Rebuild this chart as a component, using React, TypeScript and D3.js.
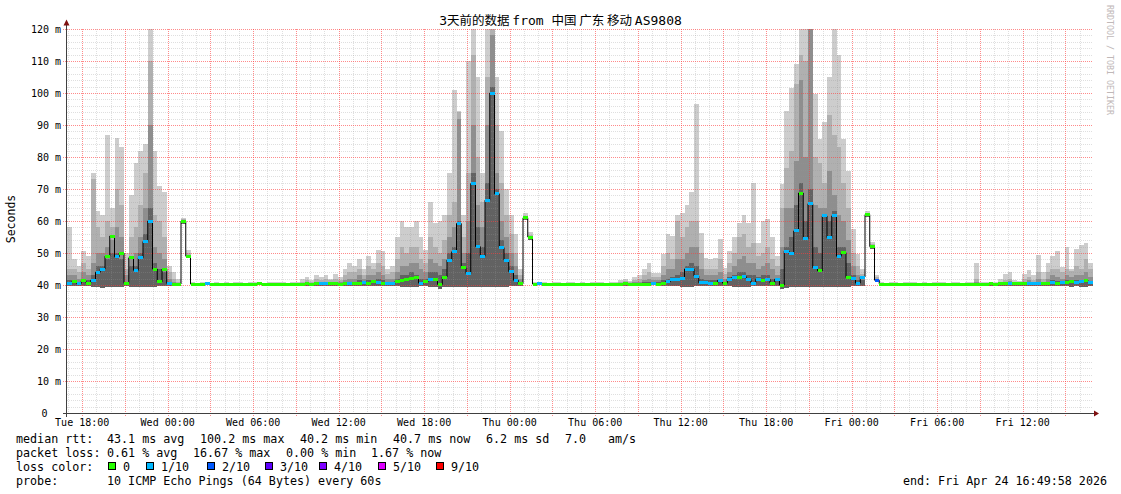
import React from 'react';
import * as d3 from 'd3';

// 3 days of smokeping data, one sample every 20 minutes
const startTime = new Date(2026, 3, 21, 16, 56);
const stepMinutes = 20;
const spanHours = 72;

const medianMs = [
  40.5, 41, 40.5, 41.3, 40.6, 41.5, 44, 45, 49, 55.3, 48.8, 50,
  40.5, 48.5, 44.6, 48.5, 53.6, 60, 45, 41, 45, 40.5, 40.3, 40.3,
  60, 49, 40.3, 40.3, 40.2, 40.4, 40.3, 40.3, 40.2, 40.3, 40.3, 40.2,
  40.3, 40.2, 40.3, 40.3, 40.4, 40.3, 40.2, 40.3, 40.3, 40.3, 40.2, 40.3,
  40.3, 40.3, 40.4, 40.3, 40.4, 40.5, 40.5, 40.4, 40.4, 40.3, 40.5, 40.5,
  40.6, 40.4, 40.8, 40.6, 41, 40.7, 40.5, 40.5, 40.5, 41, 41.5, 41.8,
  42, 42.3, 40.6, 41, 41.7, 41.8, 40.2, 42.5, 47.8, 50.4, 59.2, 45.4,
  43.6, 71.7, 52, 49, 66.5, 100, 68.5, 51.7, 47.8, 44.2, 41.5, 40.4,
  61, 55, 40.3, 40.4, 40.3, 40.3, 40.2, 40.3, 40.3, 40.3, 40.2, 40.3,
  40.3, 40.2, 40.3, 40.3, 40.3, 40.2, 40.3, 40.3, 40.3, 40.4, 40.3, 40.3,
  40.3, 40.3, 40.3, 40.4, 40.3, 40.5, 41, 41.7, 41.7, 42, 45, 45,
  42.8, 40.7, 40.7, 40.6, 40.6, 41.5, 40.6, 41.8, 42.5, 42.5, 42.6, 41.8,
  40.6, 41.8, 41.5, 41.8, 40.6, 41.8, 40, 50.6, 49.8, 56.9, 68.75, 54.5,
  65.4, 45.4, 44.4, 61.6, 54.8, 61.6, 49, 50.1, 42.3, 41.9, 40.6, 42.5,
  62, 52, 41.5, 40.3, 40.3, 40.2, 40.3, 40.3, 40.2, 40.3, 40.3, 40.3,
  40.3, 40.2, 40.3, 40.3, 40.3, 40.2, 40.3, 40.3, 40.2, 40.3, 40.3, 40.3,
  40.3, 40.3, 40.4, 40.3, 40.5, 40.5, 40.6, 40.4, 40.4, 40.5, 40.6, 40.6,
  40.6, 40.5, 40.6, 40.8, 40.6, 40.7, 40.8, 41, 40.8, 41, 41.3, 40.8,
];

// lost pings out of 10
const lossTenths = [
  1, 0, 1, 0, 0, 1, 1, 1, 0, 0, 1, 0,
  0, 0, 1, 1, 1, 1, 0, 0, 0, 1, 0, 0,
  0, 0, 0, 0, 0, 1, 0, 0, 0, 0, 0, 0,
  0, 0, 0, 0, 0, 0, 0, 0, 0, 0, 0, 0,
  0, 0, 0, 0, 0, 1, 1, 0, 0, 0, 0, 1,
  0, 0, 1, 0, 0, 1, 0, 1, 1, 0, 0, 0,
  0, 0, 1, 0, 1, 0, 0, 0, 1, 1, 1, 0,
  1, 1, 1, 1, 1, 1, 1, 1, 1, 1, 1, 0,
  0, 0, 0, 1, 0, 0, 0, 0, 0, 0, 0, 0,
  0, 0, 0, 0, 0, 0, 0, 0, 0, 0, 0, 0,
  0, 0, 0, 1, 0, 0, 1, 1, 1, 1, 1, 1,
  1, 1, 1, 1, 0, 1, 0, 1, 1, 0, 1, 1,
  1, 1, 0, 1, 0, 1, 0, 1, 1, 1, 0, 1,
  1, 1, 0, 1, 1, 1, 1, 0, 0, 1, 1, 1,
  0, 0, 2, 0, 0, 0, 0, 0, 0, 0, 0, 0,
  0, 0, 0, 0, 0, 0, 0, 0, 0, 0, 0, 0,
  0, 0, 0, 0, 0, 0, 1, 0, 0, 0, 1, 1,
  1, 0, 0, 1, 0, 1, 0, 0, 1, 1, 0, 1,
];

const minMs = [
  39.6, 39.7, 39.7, 39.6, 39.7, 39.5, 39.3, 39.2, 39.3, 39.4, 39.5, 39.5,
  39.6, 39.5, 39.4, 39.4, 39.3, 39.3, 39.5, 39.6, 39.6, 39.8, 39.9, 39.9,
  59.2, 48.6, 39.9, 39.9, 39.8, 39.9, 39.9, 39.9, 39.8, 39.9, 39.9, 39.8,
  39.9, 39.8, 39.9, 39.9, 39.9, 39.9, 39.8, 39.9, 39.9, 39.9, 39.8, 39.9,
  39.9, 39.9, 39.8, 39.9, 39.8, 39.8, 39.8, 39.8, 39.8, 39.9, 39.7, 39.7,
  39.7, 39.8, 39.7, 39.7, 39.6, 39.7, 39.7, 39.8, 39.8, 39.6, 39.5, 39.5,
  39.5, 39.5, 39.6, 39.6, 39.5, 39.5, 38.8, 39.3, 39.3, 39.4, 39.4, 39.3,
  39.3, 39.4, 39.4, 39.4, 39.4, 39.4, 39.4, 39.5, 39.5, 39.6, 39.7, 39.8,
  60.2, 54, 39.9, 39.9, 39.9, 39.9, 39.8, 39.9, 39.9, 39.9, 39.8, 39.9,
  39.9, 39.8, 39.9, 39.9, 39.9, 39.8, 39.9, 39.9, 39.8, 39.8, 39.9, 39.8,
  39.9, 39.9, 39.9, 39.9, 39.9, 39.8, 39.7, 39.6, 39.6, 39.5, 39.5, 39.5,
  39.6, 39.7, 39.7, 39.7, 39.7, 39.6, 39.7, 39.6, 39.5, 39.5, 39.5, 39.5,
  39.6, 39.6, 39.6, 39.6, 39.7, 39.6, 38.8, 39.2, 39.3, 39.3, 39.4, 39.4,
  39.4, 39.4, 39.4, 39.4, 39.4, 39.4, 39.5, 39.5, 39.5, 39.6, 39.7, 39.8,
  61.2, 51.2, 40.8, 39.9, 39.9, 39.8, 39.9, 39.9, 39.8, 39.9, 39.9, 39.9,
  39.9, 39.8, 39.9, 39.9, 39.9, 39.8, 39.9, 39.9, 39.8, 39.9, 39.9, 39.9,
  39.9, 39.9, 39.8, 39.9, 39.8, 39.8, 39.8, 39.8, 39.8, 39.8, 39.7, 39.7,
  39.7, 39.7, 39.7, 39.6, 39.7, 39.6, 39.6, 39.5, 39.6, 39.5, 39.5, 39.6,
];

// smoke: upper edge of each band, outer (lightest) to inner (darkest)
const smokeMax = [
  58, 48, 46, 50.5, 49, 75, 63, 62, 87, 64, 86, 83,
  50, 68, 78, 82, 84, 120, 82, 71, 69, 46, 44, 42,
  61, 51, 40.8, 40.7, 40.8, 40.9, 40.7, 40.8, 40.7, 40.8, 40.7, 40.8,
  40.8, 40.7, 40.8, 40.8, 40.9, 40.7, 40.8, 40.8, 41, 40.8, 40.7, 40.9,
  41, 42, 42.5, 41.5, 43, 42.5, 43, 42, 43.5, 42.5, 45, 47,
  46, 48, 45, 49, 47, 51, 50.6, 45, 46, 55, 60, 58,
  58, 60, 55, 51, 66, 59.5, 60, 62, 75, 101, 94.5, 62,
  110, 120, 105, 75, 120, 120, 105, 88, 70, 62, 56, 45,
  62.5, 56.5, 40.8, 40.9, 40.8, 40.7, 40.8, 40.8, 40.7, 40.8, 40.8, 40.7,
  40.8, 40.7, 40.8, 40.9, 40.8, 40.7, 40.8, 40.8, 41.5, 42, 41.2, 42.5,
  43, 45, 47, 43.8, 43.8, 49.6, 55.8, 55.3, 62, 62.6, 65, 69,
  96.5, 56.4, 48.5, 48, 48.5, 54.3, 45.4, 50.6, 55, 59.5, 62, 59.4,
  72, 53, 60, 60.5, 55, 49, 71.5, 94.4, 101.7, 109, 120, 120,
  120, 99.6, 85.6, 91, 105, 120, 112, 85.6, 75.6, 57.4, 49.6, 45,
  63, 53.5, 43, 40.8, 40.7, 40.8, 40.8, 40.7, 40.8, 40.9, 40.8, 40.7,
  40.8, 40.7, 40.8, 40.8, 40.9, 40.7, 40.8, 40.8, 40.7, 40.8, 40.8, 46.8,
  40.8, 40.8, 41, 41, 42, 43.5, 44, 41.5, 41.2, 43.5, 44.7, 43,
  49.4, 44, 47, 49, 50.6, 45.5, 51.9, 45, 51.2, 52.5, 53, 47,
];

const smokeHigh = [
  45, 45, 44, 47, 45, 73, 58, 55, 60, 58, 70, 65,
  45, 55, 58, 65, 75, 110, 62, 60, 55, 44, 42, 41,
  60.5, 50, 40.6, 40.6, 40.6, 40.7, 40.6, 40.6, 40.6, 40.6, 40.6, 40.6,
  40.6, 40.6, 40.6, 40.6, 40.7, 40.6, 40.6, 40.6, 40.7, 40.6, 40.6, 40.7,
  40.7, 41, 41.5, 41, 42, 41.5, 42, 41.5, 42, 41.5, 43, 44,
  44, 45, 43, 46, 45, 47, 46, 43.5, 44, 48, 52, 50,
  52, 52, 48, 47, 55, 52, 50, 54, 62, 66, 94, 55,
  75, 112, 80, 66, 105, 120, 90, 72, 62, 56, 50, 43,
  61.6, 55.5, 40.6, 40.7, 40.6, 40.6, 40.6, 40.6, 40.6, 40.6, 40.6, 40.6,
  40.6, 40.6, 40.6, 40.7, 40.6, 40.6, 40.6, 40.6, 41, 41.3, 40.9, 41.5,
  42, 43, 44, 42.5, 42.5, 46, 50, 48, 60, 55, 58, 60,
  60, 50, 45, 45, 45, 48, 43.5, 47, 50, 55, 56, 52,
  53, 49, 50, 52, 48, 46, 64, 76.7, 82, 102.7, 112, 110,
  120, 80, 78, 72, 93, 87, 83, 72, 64, 50, 46, 43.5,
  62.5, 52.8, 42.5, 40.6, 40.6, 40.6, 40.6, 40.6, 40.6, 40.7, 40.6, 40.6,
  40.6, 40.6, 40.6, 40.6, 40.7, 40.6, 40.6, 40.6, 40.6, 40.6, 40.6, 42,
  40.6, 40.6, 40.7, 40.7, 41, 41.5, 42, 41, 40.9, 42, 42.5, 41.5,
  44, 42, 44, 45, 45, 44, 45, 44.5, 46, 45, 48, 45,
];

const smokeMid = [
  43, 43, 42, 44, 43, 47, 50, 50, 52, 54, 58, 55,
  43, 49, 50, 55, 64, 90, 52, 50, 48, 42, 41, 40.6,
  60.3, 49.5, 40.5, 40.5, 40.5, 40.6, 40.5, 40.5, 40.5, 40.5, 40.5, 40.5,
  40.5, 40.5, 40.5, 40.5, 40.6, 40.5, 40.5, 40.5, 40.6, 40.5, 40.5, 40.6,
  40.5, 40.6, 41, 40.6, 41, 41, 41, 41, 41, 41, 41.5, 42,
  42, 43, 42, 43, 43, 44, 43, 42, 42, 44, 46, 46,
  47, 47, 45, 44, 48, 47, 46, 48, 55, 58, 92, 50,
  60, 90, 65, 58, 90, 118, 75, 60, 55, 50, 46, 42,
  61.3, 55.2, 40.5, 40.6, 40.5, 40.5, 40.5, 40.5, 40.5, 40.5, 40.5, 40.5,
  40.5, 40.5, 40.5, 40.6, 40.5, 40.5, 40.5, 40.5, 40.7, 40.9, 40.7, 41,
  41, 41.5, 42, 41.5, 41.5, 43, 45, 45, 48, 48, 50, 52,
  52, 45, 43, 43, 43, 44, 42, 44, 46, 48, 49, 47,
  47, 45, 46, 47, 45, 43, 52, 64, 64, 78.75, 104, 80,
  120, 65, 64, 64, 75.6, 68, 62, 60, 54, 46, 43, 42.5,
  62.2, 52.4, 42, 40.5, 40.5, 40.5, 40.5, 40.5, 40.5, 40.6, 40.5, 40.5,
  40.5, 40.5, 40.5, 40.5, 40.6, 40.5, 40.5, 40.5, 40.5, 40.5, 40.5, 41,
  40.5, 40.5, 40.6, 40.6, 40.8, 41, 41.2, 40.7, 40.7, 41, 41.5, 41,
  42, 41, 42, 43, 42.5, 42, 43, 42.5, 43, 43, 44, 42.5,
];

const smokeCore = [
  41.5, 41.5, 41, 42, 41.5, 43, 46, 46, 48, 50, 50, 48,
  41, 46, 46, 50, 56, 64, 47, 45, 44, 41, 40.6, 40.4,
  60.1, 49.2, 40.4, 40.4, 40.4, 40.5, 40.4, 40.4, 40.4, 40.4, 40.4, 40.4,
  40.4, 40.4, 40.4, 40.4, 40.5, 40.4, 40.4, 40.4, 40.5, 40.4, 40.4, 40.5,
  40.4, 40.4, 40.6, 40.4, 40.6, 40.6, 40.6, 40.6, 40.6, 40.6, 40.8, 41,
  41, 41.5, 41, 41.5, 41.5, 42, 41.5, 41, 41, 42, 43, 43,
  44, 43, 42, 42, 44, 44, 43, 45, 50, 52, 60, 47,
  50, 75, 58, 52, 72, 102, 70, 54, 50, 46, 43, 41,
  61.1, 55.1, 40.4, 40.5, 40.4, 40.4, 40.4, 40.4, 40.4, 40.4, 40.4, 40.4,
  40.4, 40.4, 40.4, 40.5, 40.4, 40.4, 40.4, 40.4, 40.5, 40.6, 40.5, 40.6,
  40.7, 41, 41, 40.8, 40.8, 41.5, 42, 42.5, 43, 44, 46, 47,
  46, 42, 41.5, 41.5, 41.5, 42, 41, 42.5, 43, 44, 44, 43,
  43, 42.5, 43, 43, 42, 41.5, 45, 52, 55, 65, 72, 60,
  70, 52, 50, 62, 60, 63, 52, 52, 47, 43, 41.5, 41.5,
  62.1, 52.2, 41.8, 40.4, 40.4, 40.4, 40.4, 40.4, 40.4, 40.5, 40.4, 40.4,
  40.4, 40.4, 40.4, 40.4, 40.5, 40.4, 40.4, 40.4, 40.4, 40.4, 40.4, 40.7,
  40.4, 40.4, 40.5, 40.5, 40.6, 40.7, 40.8, 40.5, 40.5, 40.7, 41, 40.7,
  41, 40.7, 41, 41.5, 41.2, 41, 41.5, 41.2, 41.5, 41.5, 42, 41.2,
];

const smokeColors = ['#cdcdcd', '#b0b0b0', '#8e8e8e', '#626262'];

const lossLegend = ['0', '1/10', '2/10', '3/10', '4/10', '5/10', '9/10'];
const lossLegendColors = ['#26ff00', '#00b8ff', '#0059ff', '#5e00ff', '#7e00ff', '#dd00ff', '#ff0000'];
const lossLegendX = [108, 146, 207, 265, 319, 378, 436];

const rttStats = [['median rtt:', 16], ['43.1 ms avg', 107], ['100.2 ms max', 200], ['40.2 ms min', 300],
  ['40.7 ms now', 393], ['6.2 ms sd', 486], ['7.0', 565], ['am/s', 608]] as const;
const lossStats = [['packet loss:', 16], ['0.61 % avg', 107], ['16.67 % max', 193], ['0.00 % min', 286],
  ['1.67 % now', 371]] as const;

const mono = "'DejaVu Sans Mono', monospace";
const cjk = "'Noto Sans CJK SC', 'DejaVu Sans Mono', sans-serif";

function lossColor(l: number) {
  if (l <= 0) return lossLegendColors[0];
  if (l >= 9) return lossLegendColors[6];
  return lossLegendColors[Math.min(l, 5)];
}

interface Sample { t: Date; med: number; loss: number; lo: number; tops: number[] }

const App: React.FC = () => {
  const W = 1121, H = 494;
  const left = 67, right = 1093, top = 29, bottom = 413;
  const endTime = d3.timeHour.offset(startTime, spanHours);

  const x = d3.scaleTime().domain([startTime, endTime]).range([left, right]);
  const y = d3.scaleLinear().domain([0, 120]).range([bottom, top]);

  const samples: Sample[] = medianMs.map((m, i) => ({
    t: d3.timeMinute.offset(startTime, i * stepMinutes),
    med: m,
    loss: lossTenths[i],
    lo: minMs[i],
    tops: [smokeMax[i], smokeHigh[i], smokeMid[i], smokeCore[i]],
  }));
  // closing point so the last step reaches the right edge
  const stepped = [...samples, { ...samples[samples.length - 1], t: endTime }];

  const smoke = smokeColors.map((c, lvl) =>
    d3.area<Sample>()
      .x(d => x(d.t))
      .y0(d => y(d.lo))
      .y1(d => y(Math.min(120, d.tops[lvl])))
      .curve(d3.curveStepAfter)(stepped) || '');

  const medianLine = d3.line<Sample>()
    .x(d => x(d.t))
    .y(d => y(d.med))
    .curve(d3.curveStepAfter)(stepped) || '';

  const minorY = y.ticks(60);
  const majorY = y.ticks(12);
  const minorX = x.ticks(d3.timeHour.every(1)!);
  const majorX = x.ticks(d3.timeHour.every(3)!);
  const labelX = x.ticks(d3.timeHour.every(6)!);
  const fmt = d3.timeFormat('%a %H:%M');

  const minorGrid = 'rgba(150,150,150,0.3)';
  const majorGrid = 'rgba(255,60,60,0.6)';
  const crisp = (v: number) => Math.round(v) + 0.5;

  const legendY = [443, 457, 471, 485];

  return (
    <svg width={W} height={H} viewBox={`0 0 ${W} ${H}`}
      style={{ position: 'absolute', left: 0, top: 0, background: '#fff' }}>
      <rect width={W} height={H} fill="#fff" />

      {/* smoke */}
      {smoke.map((d, i) => <path key={i} d={d} fill={smokeColors[i]} shapeRendering="crispEdges" />)}

      {/* grid */}
      <g shapeRendering="crispEdges" strokeDasharray="1,1" strokeWidth={1}>
        {minorY.filter(v => v % 10 !== 0).map(v =>
          <line key={'my' + v} x1={left} x2={right} y1={crisp(y(v))} y2={crisp(y(v))} stroke={minorGrid} />)}
        {minorX.filter(t => t.getHours() % 3 !== 0).map(t =>
          <line key={'mx' + +t} x1={crisp(x(t))} x2={crisp(x(t))} y1={top} y2={bottom} stroke={minorGrid} />)}
        {majorY.filter(v => v > 0).map(v =>
          <line key={'My' + v} x1={left - 4} x2={right} y1={crisp(y(v))} y2={crisp(y(v))} stroke={majorGrid} />)}
        {majorX.map(t =>
          <line key={'Mx' + +t} x1={crisp(x(t))} x2={crisp(x(t))} y1={top} y2={bottom + 3} stroke={majorGrid} />)}
      </g>

      {/* median */}
      <path d={medianLine} fill="none" stroke="#000" strokeWidth={1} />
      <g shapeRendering="crispEdges">
        {samples.map((d, i) => {
          const x0 = x(d.t);
          const x1 = i + 1 < samples.length ? x(samples[i + 1].t) : right;
          return <rect key={i} x={x0} width={x1 - x0} y={y(d.med) - 1.5} height={3} fill={lossColor(d.loss)} />;
        })}
      </g>

      {/* axes */}
      <g shapeRendering="crispEdges" stroke="#404040">
        <line x1={left - 0.5} x2={left - 0.5} y1={24} y2={bottom + 4} />
        <line x1={left - 4} x2={right + 2} y1={bottom + 0.5} y2={bottom + 0.5} />
      </g>
      <path d={`M${left - 3.5},${25.5} L${left - 0.5},${19.5} L${left + 2.5},${25.5} Z`} fill="#7f1010" />
      <path d={`M${right + 1},${bottom - 2.5} L${right + 6},${bottom + 0.5} L${right + 1},${bottom + 3.5} Z`} fill="#7f1010" />

      {/* y labels */}
      <g fontFamily={mono} fontSize={10} fill="#000" textAnchor="end">
        {majorY.map(v =>
          <text key={v} x={v === 0 ? 47.5 : 61} y={y(v) + 4}>{v === 0 ? '0' : `${v} m`}</text>)}
      </g>
      <text transform="translate(14.5,219) rotate(-90)" textAnchor="middle" fontFamily={mono} fontSize={11.5}>Seconds</text>

      {/* x labels */}
      <g fontFamily={mono} fontSize={10} fill="#000" textAnchor="middle">
        {labelX.map(t => <text key={+t} x={x(t)} y={425.5}>{fmt(t)}</text>)}
      </g>

      {/* title */}
      <text x={560.5} y={25} textAnchor="middle" fontFamily={mono} fontSize={13} fill="#000"
        style={{ whiteSpace: 'pre' }}>
        3<tspan fontFamily={cjk} fontSize={12.5}>{'天前的数据 '}</tspan>{'from '}<tspan fontFamily={cjk} fontSize={12.5}>{'中国 广东 移动 '}</tspan>AS9808
      </text>

      <text transform="translate(1107,5) rotate(90)" fontFamily={mono} fontSize={8.3} fill="#c0b8b8">RRDTOOL / TOBI OETIKER</text>

      {/* legend */}
      <g fontFamily={mono} fontSize={11.7} fill="#000" style={{ whiteSpace: 'pre' }}>
        {rttStats.map(([s, px]) => <text key={s} x={px} y={legendY[0]}>{s}</text>)}
        {lossStats.map(([s, px]) => <text key={s} x={px} y={legendY[1]}>{s}</text>)}
        <text x={16} y={legendY[2]}>loss color:</text>
        {lossLegend.map((l, i) => (
          <g key={l}>
            <rect x={lossLegendX[i] + 0.5} y={legendY[2] - 8.5} width={7} height={7}
              fill={lossLegendColors[i]} stroke="#000" strokeWidth={1} shapeRendering="crispEdges" />
            <text x={lossLegendX[i] + 15} y={legendY[2]}>{l}</text>
          </g>
        ))}
        <text x={16} y={legendY[3]}>probe:</text>
        <text x={107} y={legendY[3]}>10 ICMP Echo Pings (64 Bytes) every 60s</text>
        <text x={1107} y={legendY[3]} textAnchor="end">end: Fri Apr 24 16:49:58 2026</text>
      </g>
    </svg>
  );
};

export default App;
